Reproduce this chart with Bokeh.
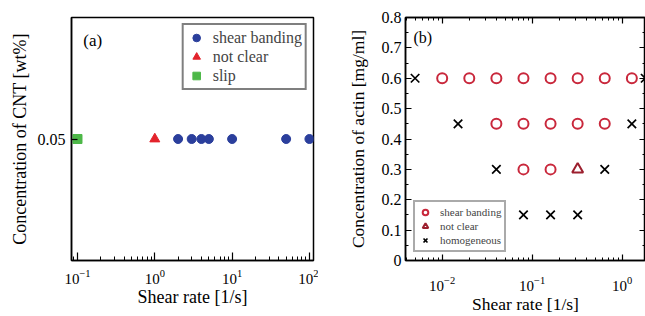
from bokeh.plotting import figure
from bokeh.models import (LogAxis, LinearAxis, LogTicker, FixedTicker, SingleIntervalTicker,
                          Legend, LegendItem, Label, Range1d)
from bokeh.layouts import row
from bokeh.embed import file_html
from bokeh.resources import INLINE

SERIF = "Liberation Serif"

# ---------------- Panel (a) data ----------------
a_banding_x = [2, 3, 4, 5, 10, 50, 100]
a_banding_y = [0.05, 0.05, 0.05, 0.05, 0.05, 0.05, 0.05]
a_notclear_x = [1]
a_notclear_y = [0.05]
a_slip_x = [0.1]
a_slip_y = [0.05]
a_yticks = [0.05]

# ---------------- Panel (b) data ----------------
b_banding_x = [0.01, 0.02, 0.04, 0.08, 0.16, 0.32, 0.64, 1.28,
               0.04, 0.08, 0.16, 0.32, 0.64,
               0.08, 0.16]
b_banding_y = [0.6, 0.6, 0.6, 0.6, 0.6, 0.6, 0.6, 0.6,
               0.45, 0.45, 0.45, 0.45, 0.45,
               0.3, 0.3]
b_notclear_x = [0.32]
b_notclear_y = [0.3]
b_homog_x = [0.005, 1.8, 0.015, 1.28, 0.04, 0.64, 0.08, 0.16, 0.32]
b_homog_y = [0.6, 0.6, 0.45, 0.45, 0.3, 0.3, 0.15, 0.15, 0.15]


def style_axis(ax, tin, minin, label_size="16px", title_size="18px"):
    ax.axis_line_color = "black"
    ax.axis_line_width = 1.5
    ax.major_tick_in = tin
    ax.major_tick_out = 0
    ax.minor_tick_in = minin
    ax.minor_tick_out = 0
    ax.major_tick_line_color = "black"
    ax.minor_tick_line_color = "black"
    ax.major_tick_line_width = 1.2
    ax.minor_tick_line_width = 1
    ax.major_label_text_font = SERIF
    ax.major_label_text_font_size = label_size
    ax.major_label_text_color = "black"
    ax.axis_label_text_font = SERIF
    ax.axis_label_text_font_style = "normal"
    ax.axis_label_text_font_size = title_size
    ax.axis_label_text_color = "black"


def base_fig(xr, yr, fw, fh, bl, br, bt, bb):
    p = figure(x_axis_type="log", x_range=xr, y_range=yr, title=None,
               frame_width=fw, frame_height=fh, min_border=0,
               min_border_left=bl, min_border_right=br,
               min_border_top=bt, min_border_bottom=bb,
               output_backend="svg", toolbar_location=None, align="start")
    p.xgrid.visible = False
    p.ygrid.visible = False
    p.outline_line_color = "black"
    p.outline_line_width = 1.5
    p.background_fill_color = "white"
    p.border_fill_color = "white"
    return p


# ---------------- Panel (a) ----------------
p1 = base_fig(Range1d(0.08364, 112.9), Range1d(0, 0.1), 242, 243, 71, 5, 14, 59)
p1.xaxis.ticker = LogTicker(num_minor_ticks=10)
p1.yaxis.ticker = FixedTicker(ticks=a_yticks, minor_ticks=[])
style_axis(p1.xaxis[0], 8, 4, label_size="15px")
style_axis(p1.yaxis[0], 6, 0)
p1.xaxis.axis_label = "Shear rate [1/s]"
p1.yaxis.axis_label = "Concentration of CNT [wt%]"
p1.xaxis.major_label_standoff = 9
p1.xaxis.axis_label_standoff = 0
p1.yaxis.major_label_standoff = 6
p1.yaxis.axis_label_standoff = 5

ra1 = p1.scatter(a_banding_x, a_banding_y, marker="circle", size=9,
                 fill_color="#2b3f9c", line_color="#2b3f9c")
ra2 = p1.scatter(a_notclear_x, a_notclear_y, marker="triangle", size=10,
                 fill_color="#e3232c", line_color="#e3232c")
ra3 = p1.scatter(a_slip_x, a_slip_y, marker="square", size=9,
                 fill_color="#4db848", line_color="#4db848")

leg1 = Legend(items=[LegendItem(label="shear banding", renderers=[ra1]),
                     LegendItem(label="not clear", renderers=[ra2]),
                     LegendItem(label="slip", renderers=[ra3])],
              location="top_right", margin=6, padding=3, spacing=0,
              glyph_width=19, glyph_height=19, label_height=19, label_standoff=7,
              label_text_font=SERIF, label_text_font_size="16px",
              border_line_color="black", border_line_width=2.5,
              background_fill_color="white", background_fill_alpha=1)
p1.add_layout(leg1)
p1.add_layout(Label(x=0.1186, y=0.0905, text="(a)", text_font=SERIF,
                    text_font_size="17px", text_baseline="middle", text_color="black"))

# ---------------- Panel (b) ----------------
p2 = base_fig(Range1d(0.003912, 1.815), Range1d(0, 0.8), 240, 243, 87, 0, 17, 56)
p2.xaxis.ticker = LogTicker(num_minor_ticks=10)
p2.yaxis.ticker = SingleIntervalTicker(interval=0.1, num_minor_ticks=2)
style_axis(p2.xaxis[0], 6, 3, label_size="15px", title_size="17.5px")
style_axis(p2.yaxis[0], 6, 3, title_size="17.5px")
p2.xaxis.axis_label = "Shear rate [1/s]"
p2.yaxis.axis_label = "Concentration of actin [mg/ml]"
p2.yaxis[0].major_label_overrides = {0: "0"}
p2.xaxis.major_label_standoff = 16
p2.xaxis.axis_label_standoff = 0
p2.yaxis.major_label_standoff = 4
p2.yaxis.axis_label_standoff = 11

ax_top = LogAxis(ticker=LogTicker(num_minor_ticks=10))
style_axis(ax_top, 6, 3, label_size="0px")
ax_top.major_label_text_color = None
ax_top.major_label_standoff = 0
p2.add_layout(ax_top, "above")

ax_right = LinearAxis(ticker=SingleIntervalTicker(interval=0.1, num_minor_ticks=2))
style_axis(ax_right, 6, 3, label_size="0px")
ax_right.major_label_text_color = None
ax_right.major_label_standoff = 0
p2.add_layout(ax_right, "right")

rb1 = p2.scatter(b_banding_x, b_banding_y, marker="circle", size=10,
                 fill_color=None, line_color="#c9283c", line_width=2)
rb2 = p2.scatter(b_notclear_x, b_notclear_y, marker="triangle", size=11,
                 fill_color=None, line_color="#9c1f2e", line_width=2)
rb3 = p2.scatter(b_homog_x, b_homog_y, marker="x", size=12,
                 line_color="black", line_width=1.7)

leg2 = Legend(items=[LegendItem(label="shear banding", renderers=[rb1]),
                     LegendItem(label="not clear", renderers=[rb2]),
                     LegendItem(label="homogeneous", renderers=[rb3])],
              location="bottom_left", margin=8, padding=3, spacing=0,
              glyph_width=14, glyph_height=14, label_height=14, label_standoff=8,
              label_text_font=SERIF, label_text_font_size="11px",
              border_line_color="#555555", border_line_width=2.5,
              background_fill_color="white", background_fill_alpha=1)
p2.add_layout(leg2)
p2.add_layout(Label(x=0.0048, y=0.734, text="(b)", text_font=SERIF,
                    text_font_size="16px", text_baseline="middle", text_color="black"))

layout = row(p1, p2)
open("out.html", "w").write(file_html(layout, INLINE))
